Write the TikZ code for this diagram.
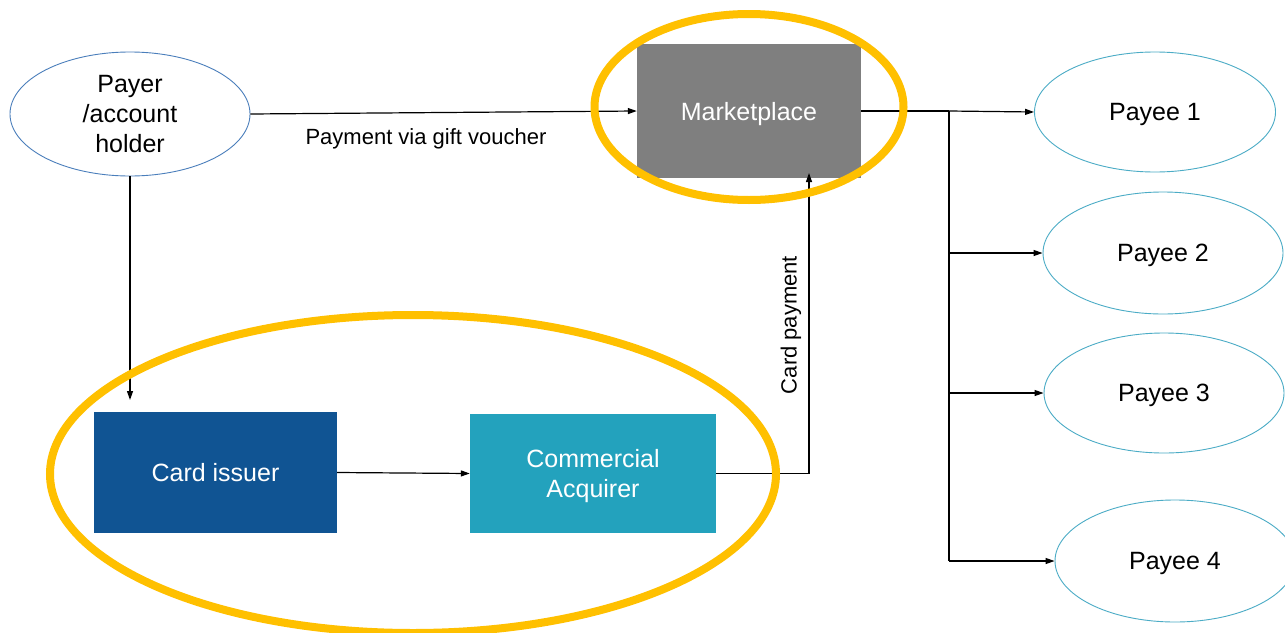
\documentclass[tikz,border=0pt]{standalone}
\usepackage{fontspec}
\setmainfont{Liberation Sans}
\usetikzlibrary{shapes.geometric,arrows.meta}
\definecolor{ygold}{HTML}{FFC000}
\definecolor{payerblue}{HTML}{4A7EBB}
\definecolor{payeeteal}{HTML}{4BACC6}
\definecolor{mgray}{HTML}{7F7F7F}
\definecolor{issuerblue}{HTML}{105493}
\definecolor{acqteal}{HTML}{23A2BD}
\begin{document}
\begin{tikzpicture}[x=1pt,y=-1pt,
  oval/.style={ellipse, inner sep=0pt, line width=0.9pt, font=\fontsize{25}{30}\selectfont, align=center, text depth=0pt},
  box/.style={rectangle, inner sep=0pt, draw=none, text=white, font=\fontsize{25}{30}\selectfont, align=center, text depth=0pt},
  lbl/.style={font=\fontsize{22}{26}\selectfont, inner sep=0pt},
  arr/.style={line width=1.2pt, -{Triangle[length=9pt,width=6pt]}},
  ln/.style={line width=1.2pt},
  ring/.style={ellipse, draw=ygold, line width=8pt, inner sep=0pt}]
\useasboundingbox (0,0) rectangle (1285,632);
\fill[white] (0,0) rectangle (1285,632);

\node[oval, draw=payerblue, minimum width=240pt, minimum height=124pt] (payer) at (130,114) {Payer\\/account\\holder};
\node[box, fill=mgray, minimum width=224pt, minimum height=134pt] (mkt) at (749,111) {Marketplace};
\node[box, fill=issuerblue, minimum width=243pt, minimum height=121pt] (issuer) at (215.5,472.5) {Card issuer};
\node[box, fill=acqteal, minimum width=246pt, minimum height=119pt] (acq) at (593,473.5) {Commercial\\Acquirer};

\node[oval, draw=payeeteal, minimum width=241pt, minimum height=120pt] (p1) at (1155,112) {Payee 1};
\node[oval, draw=payeeteal, minimum width=240pt, minimum height=122pt] (p2) at (1163,253) {Payee 2};
\node[oval, draw=payeeteal, minimum width=240pt, minimum height=120pt] (p3) at (1164,393) {Payee 3};
\node[oval, draw=payeeteal, minimum width=240pt, minimum height=122pt] (p4) at (1175,561) {Payee 4};

\draw[arr] (payer.east) -- (mkt.west);
\node[lbl] (lgift) at (426,139) {Payment via gift voucher};

\coordinate (issin) at (130,400);
\draw[arr] (payer.south) -- (issin);
\draw[arr] (issuer.east) -- (acq.west);

\coordinate (cp) at (809,173);
\draw[arr] (acq.east) -| (cp);
\node[lbl, rotate=90] (lcard) at (791,325) {Card payment};

\coordinate (j) at (949,111);
\coordinate (jb) at (949,561);
\draw[ln] (mkt.east) -- (j);
\draw[arr] (j) -- (p1.west);
\draw[ln] (j) -- (jb);
\draw[arr] (j |- p2.west) -- (p2.west);
\draw[arr] (j |- p3.west) -- (p3.west);
\draw[arr] (j |- p4.west) -- (p4.west);

\node[ring, minimum width=309pt, minimum height=186pt] (ring1) at (749,107) {};
\node[ring, minimum width=726pt, minimum height=318pt] (ring2) at (413,474) {};
\end{tikzpicture}
\end{document}
